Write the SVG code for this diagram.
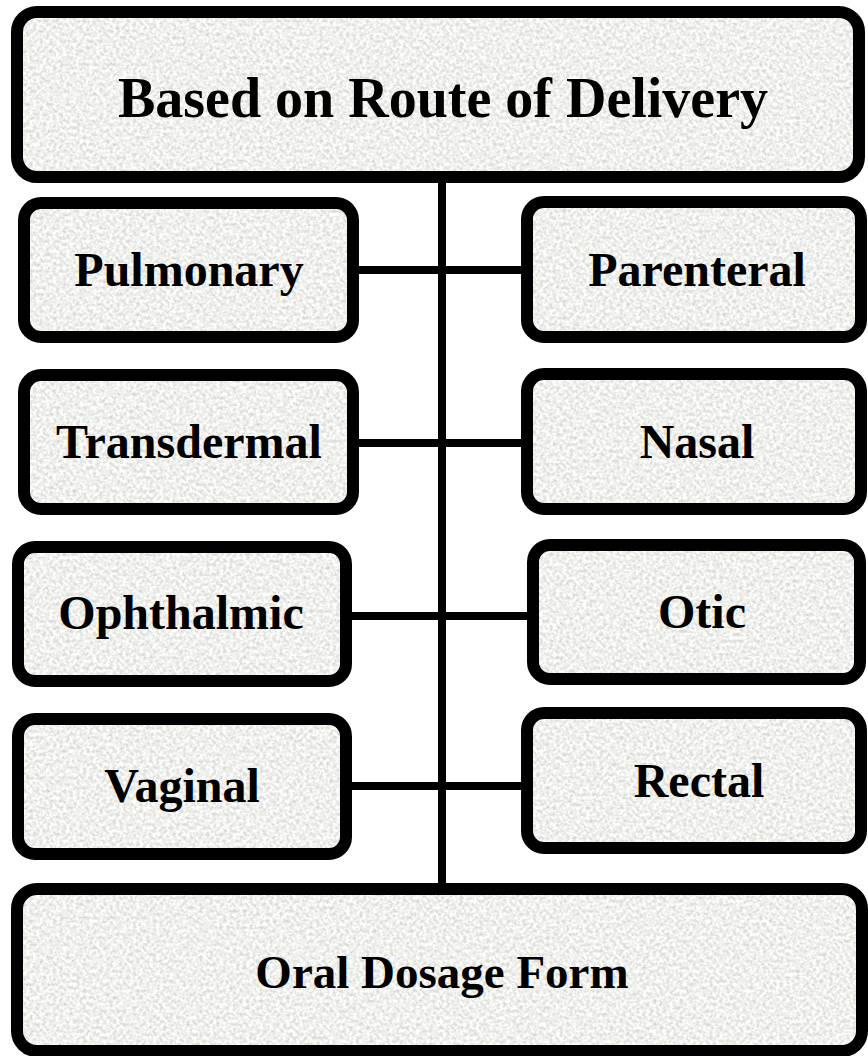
<svg xmlns="http://www.w3.org/2000/svg" width="868" height="1056" viewBox="0 0 868 1056">
<style>
.box{fill:#efefed;filter:url(#granite)}
.edge{fill:none;stroke:#000;stroke-width:12}
.lbl{font-family:"Liberation Serif","Times New Roman",serif;font-weight:bold;font-size:48px;fill:#000;text-anchor:middle}
.con{stroke:#000;stroke-width:8;fill:none}
</style>
<defs>
<filter id="granite" x="0" y="0" width="1" height="1" color-interpolation-filters="sRGB">
<feTurbulence type="fractalNoise" baseFrequency="0.3" numOctaves="3" seed="7" result="n"/>
<feColorMatrix in="n" type="matrix" values="0.32 0 0 0 0.78  0.32 0 0 0 0.78  0.32 0 0 0 0.77  0 0 0 0 1" result="g"/>
<feComposite in="g" in2="SourceGraphic" operator="in"/>
</filter>
</defs>
<rect width="868" height="1056" fill="#fff"/>
<g id="connectors">
<line class="con" x1="442" y1="177" x2="442" y2="889"/>
<line class="con" x1="353" y1="270" x2="527" y2="270"/>
<line class="con" x1="353" y1="443" x2="527" y2="443"/>
<line class="con" x1="346" y1="616" x2="533" y2="616"/>
<line class="con" x1="346" y1="786" x2="527" y2="786"/>
</g>
<g id="root">
<rect class="box" x="17" y="12" width="842" height="165" rx="20"/>
<rect class="edge" x="17" y="12" width="842" height="165" rx="20"/>
<text class="lbl" x="443" y="117" style="font-size:56px">Based on Route of Delivery</text>
</g>
<g id="pulmonary">
<rect class="box" x="24" y="203" width="329" height="134" rx="17"/>
<rect class="edge" x="24" y="203" width="329" height="134" rx="17"/>
<text class="lbl" x="189" y="286">Pulmonary</text>
</g>
<g id="parenteral">
<rect class="box" x="527" y="202" width="334" height="135" rx="17"/>
<rect class="edge" x="527" y="202" width="334" height="135" rx="17"/>
<text class="lbl" x="697" y="286">Parenteral</text>
</g>
<g id="transdermal">
<rect class="box" x="24" y="375" width="329" height="134" rx="17"/>
<rect class="edge" x="24" y="375" width="329" height="134" rx="17"/>
<text class="lbl" x="189" y="458">Transdermal</text>
</g>
<g id="nasal">
<rect class="box" x="527" y="374" width="334" height="135" rx="17"/>
<rect class="edge" x="527" y="374" width="334" height="135" rx="17"/>
<text class="lbl" x="697" y="458">Nasal</text>
</g>
<g id="ophthalmic">
<rect class="box" x="18" y="547" width="328" height="134" rx="17"/>
<rect class="edge" x="18" y="547" width="328" height="134" rx="17"/>
<text class="lbl" x="181" y="629">Ophthalmic</text>
</g>
<g id="otic">
<rect class="box" x="533" y="545" width="327" height="134" rx="17"/>
<rect class="edge" x="533" y="545" width="327" height="134" rx="17"/>
<text class="lbl" x="702" y="628">Otic</text>
</g>
<g id="vaginal">
<rect class="box" x="18" y="719" width="328" height="135" rx="17"/>
<rect class="edge" x="18" y="719" width="328" height="135" rx="17"/>
<text class="lbl" x="182" y="802">Vaginal</text>
</g>
<g id="rectal">
<rect class="box" x="527" y="713" width="334" height="135" rx="17"/>
<rect class="edge" x="527" y="713" width="334" height="135" rx="17"/>
<text class="lbl" x="699" y="797">Rectal</text>
</g>
<g id="oral">
<rect class="box" x="17" y="889" width="845" height="162" rx="20"/>
<rect class="edge" x="17" y="889" width="845" height="162" rx="20"/>
<text class="lbl" x="442" y="988" style="font-size:47px">Oral Dosage Form</text>
</g>
</svg>
